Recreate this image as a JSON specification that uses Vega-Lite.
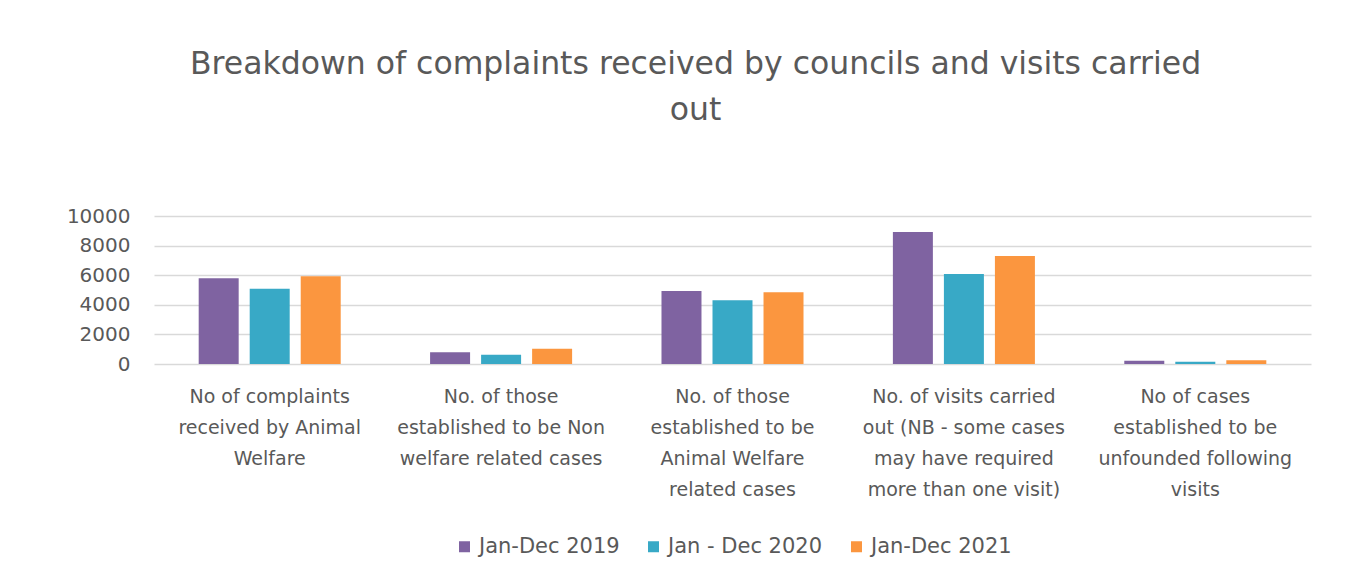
{
  "$schema": "https://vega.github.io/schema/vega-lite/v6.json",
  "width": 1157,
  "height": 148,
  "autosize": {"type": "none"},
  "padding": {"left": 154, "top": 216, "right": 49, "bottom": 198},
  "background": "#ffffff",
  "title": {
    "text": ["Breakdown of complaints received by councils and visits carried", "out"],
    "font": "DejaVu Sans",
    "fontSize": 31.5,
    "fontWeight": "normal",
    "color": "#595959",
    "lineHeight": 46,
    "anchor": "middle",
    "dx": -37,
    "offset": 80
  },
  "data": {
    "values": [
      {"category": "No of complaints|received by Animal|Welfare", "period": "Jan-Dec 2019", "count": 5790},
      {"category": "No of complaints|received by Animal|Welfare", "period": "Jan - Dec 2020", "count": 5090},
      {"category": "No of complaints|received by Animal|Welfare", "period": "Jan-Dec 2021", "count": 5930},
      {"category": "No. of those|established to be Non|welfare related cases", "period": "Jan-Dec 2019", "count": 790},
      {"category": "No. of those|established to be Non|welfare related cases", "period": "Jan - Dec 2020", "count": 630},
      {"category": "No. of those|established to be Non|welfare related cases", "period": "Jan-Dec 2021", "count": 1035},
      {"category": "No. of those|established to be|Animal Welfare|related cases", "period": "Jan-Dec 2019", "count": 4935},
      {"category": "No. of those|established to be|Animal Welfare|related cases", "period": "Jan - Dec 2020", "count": 4300},
      {"category": "No. of those|established to be|Animal Welfare|related cases", "period": "Jan-Dec 2021", "count": 4850},
      {"category": "No. of visits carried|out (NB - some cases|may have required|more than one visit)", "period": "Jan-Dec 2019", "count": 8920},
      {"category": "No. of visits carried|out (NB - some cases|may have required|more than one visit)", "period": "Jan - Dec 2020", "count": 6080},
      {"category": "No. of visits carried|out (NB - some cases|may have required|more than one visit)", "period": "Jan-Dec 2021", "count": 7300},
      {"category": "No of cases|established to be|unfounded following|visits", "period": "Jan-Dec 2019", "count": 220},
      {"category": "No of cases|established to be|unfounded following|visits", "period": "Jan - Dec 2020", "count": 150},
      {"category": "No of cases|established to be|unfounded following|visits", "period": "Jan-Dec 2021", "count": 250}
    ]
  },
  "mark": {"type": "bar"},
  "encoding": {
    "x": {
      "field": "category",
      "type": "nominal",
      "sort": null,
      "scale": {"paddingInner": 0, "paddingOuter": 0},
      "axis": {
        "title": null,
        "labelAngle": 0,
        "labelExpr": "split(datum.label, '|')",
        "labelFont": "DejaVu Sans",
        "labelFontSize": 19,
        "labelColor": "#595959",
        "labelLineHeight": 31,
        "labelPadding": 23,
        "labelLimit": 300,
        "ticks": false,
        "domain": false,
        "grid": false
      }
    },
    "xOffset": {
      "field": "period",
      "type": "nominal",
      "sort": ["Jan-Dec 2019", "Jan - Dec 2020", "Jan-Dec 2021"],
      "scale": {"paddingInner": 0.216, "paddingOuter": 0.876}
    },
    "y": {
      "field": "count",
      "type": "quantitative",
      "scale": {"domain": [0, 10000], "nice": false},
      "axis": {
        "title": null,
        "values": [0, 2000, 4000, 6000, 8000, 10000],
        "format": "d",
        "labelFont": "DejaVu Sans",
        "labelFontSize": 20,
        "labelColor": "#595959",
        "labelPadding": 24,
        "ticks": false,
        "domain": false,
        "grid": true,
        "gridColor": "#D9D9D9",
        "gridWidth": 1.5
      }
    },
    "color": {
      "field": "period",
      "type": "nominal",
      "scale": {
        "domain": ["Jan-Dec 2019", "Jan - Dec 2020", "Jan-Dec 2021"],
        "range": ["#7F63A1", "#38A9C6", "#FB963F"]
      },
      "legend": {
        "title": null,
        "orient": "bottom",
        "direction": "horizontal",
        "symbolType": "square",
        "symbolSize": 121,
        "symbolStrokeWidth": 0,
        "labelFont": "DejaVu Sans",
        "labelFontSize": 21,
        "labelColor": "#595959",
        "labelOffset": 4,
        "columnPadding": 23,
        "offset": 37
      }
    }
  },
  "config": {
    "view": {"stroke": null},
    "legend": {"layout": {"bottom": {"anchor": "middle"}}}
  }
}
